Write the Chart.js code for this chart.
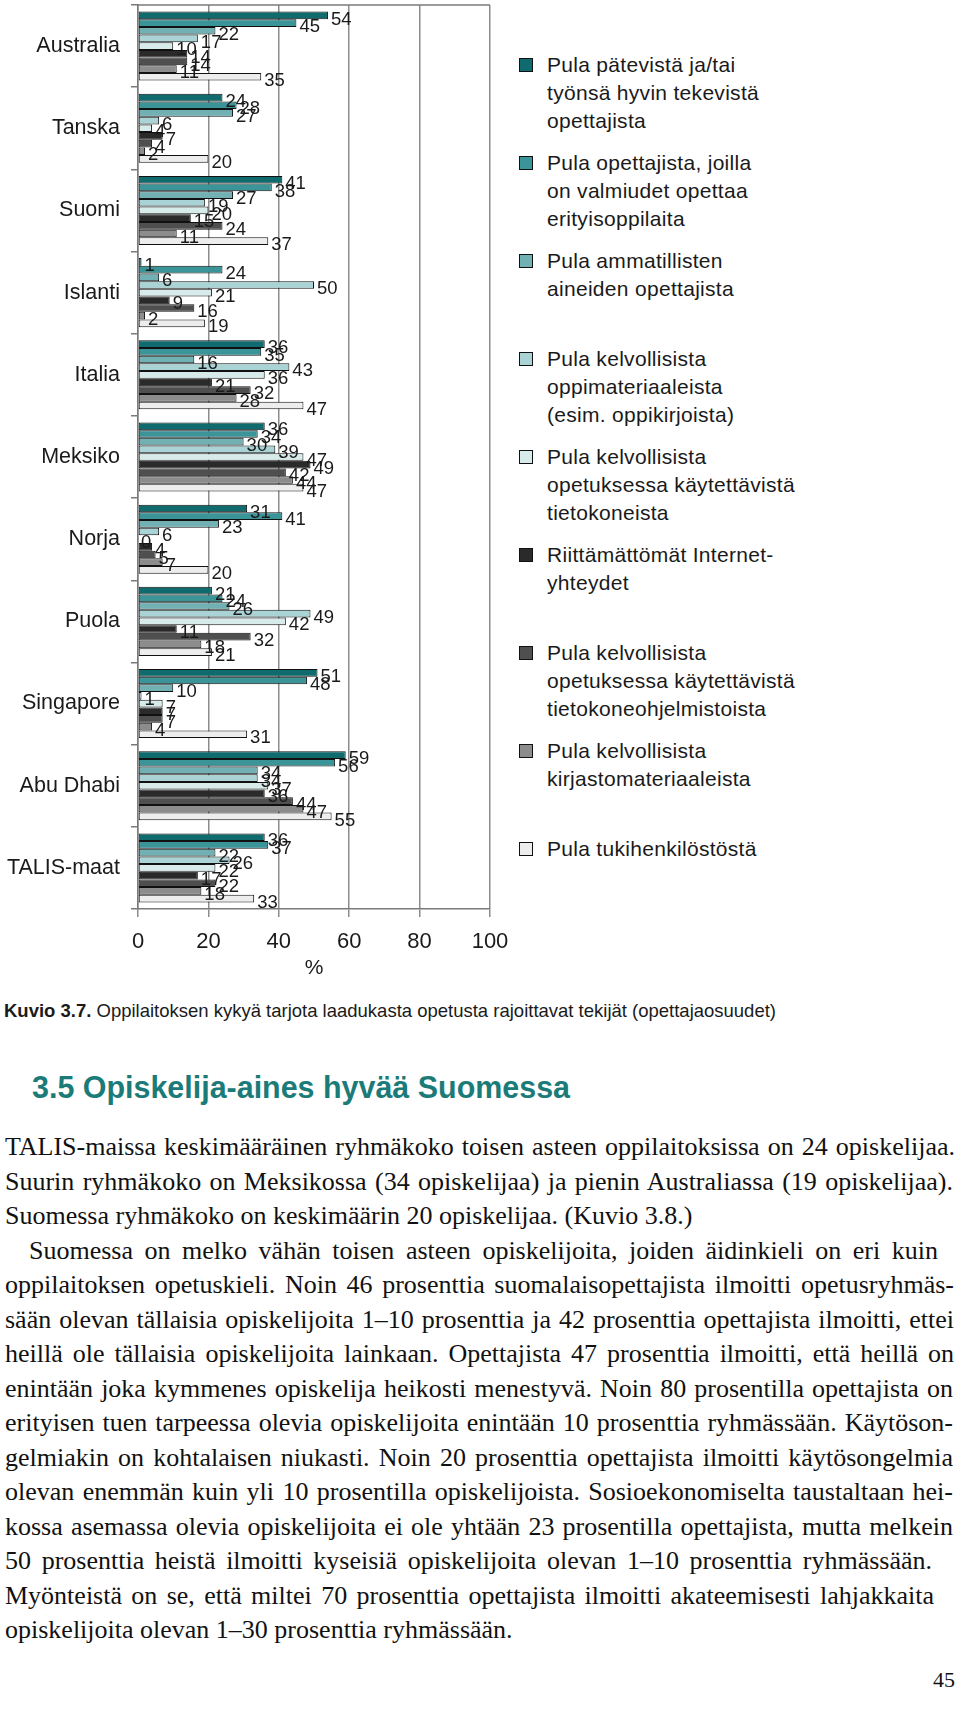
<!DOCTYPE html>
<html>
<head>
<meta charset="utf-8">
<script src="https://cdn.jsdelivr.net/npm/chart.js@4.4.1/dist/chart.umd.min.js"></script>
<style>
html,body{margin:0;padding:0;background:#fff;}
body{width:960px;height:1710px;position:relative;overflow:hidden;font-family:"Liberation Sans",Arial,sans-serif;color:#1a1a1a;}
#chartWrap{position:absolute;left:0;top:0;width:510px;height:1000px;}
.leg{position:absolute;left:519px;font-size:21px;line-height:28px;letter-spacing:0.3px;}
.leg .sw{position:absolute;left:0;top:7px;width:14px;height:14px;border:1px solid #111;box-sizing:border-box;}
.leg .tx{position:absolute;left:28px;top:0;white-space:pre;}
.fit{position:absolute;white-space:pre;transform-origin:0 0;}
#caption{font-family:"Liberation Sans",Arial,sans-serif;font-size:19px;line-height:22px;color:#1a1a1a;}
#heading{font-family:"Liberation Sans",Arial,sans-serif;font-weight:bold;font-size:32px;line-height:36px;color:#1b7b78;}
.bl{position:absolute;white-space:pre;font-family:"Liberation Serif","Times New Roman",serif;font-size:24px;line-height:30px;color:#111;}
#pageno{position:absolute;font-family:"Liberation Serif",serif;font-size:22px;line-height:26px;color:#111;}
</style>
</head>
<body>
<div id="chartWrap"><canvas id="c" width="510" height="1000" style="width:510px;height:1000px"></canvas></div>
<div id="legend"></div>
<div id="caption" class="fit"><b>Kuvio 3.7.</b> Oppilaitoksen kykyä tarjota laadukasta opetusta rajoittavat tekijät (opettajaosuudet)</div>
<div id="heading" class="fit">3.5 Opiskelija-aines hyvää Suomessa</div>
<div id="bodytext"></div>
<div id="pageno">45</div>
<script>
// ---- Chart data ----
const categories = ['Australia','Tanska','Suomi','Islanti','Italia','Meksiko','Norja','Puola','Singapore','Abu Dhabi','TALIS-maat'];
const seriesNames = [
  'Pula pätevistä ja/tai\ntyönsä hyvin tekevistä\nopettajista',
  'Pula opettajista, joilla\non valmiudet opettaa\nerityisoppilaita',
  'Pula ammatillisten\naineiden opettajista',
  'Pula kelvollisista\noppimateriaaleista\n(esim. oppikirjoista)',
  'Pula kelvollisista\nopetuksessa käytettävistä\ntietokoneista',
  'Riittämättömät Internet-\nyhteydet',
  'Pula kelvollisista\nopetuksessa käytettävistä\ntietokoneohjelmistoista',
  'Pula kelvollisista\nkirjastomateriaaleista',
  'Pula tukihenkilöstöstä'
];
const patevista      = [54,24,41, 1,36,36,31,21,51,59,36];
const erityis        = [45,28,38,24,35,34,41,24,48,56,37];
const ammatillisten  = [22,27,27, 6,16,30,23,26,10,34,22];
const oppimateriaali = [17, 6,19,50,43,39, 6,49, 1,34,26];
const tietokoneet    = [10, 4,20,21,36,47, 0,42, 7,37,22];
const internet       = [14, 7,15, 9,21,49, 4,11, 7,36,17];
const ohjelmistot    = [14, 4,24,16,32,42, 5,32, 7,44,22];
const kirjasto       = [11, 2,11, 2,28,44, 7,18, 4,47,18];
const tukihenkilosto = [35,20,37,19,47,47,20,21,31,55,33];
const xTicks = [0,20,40,60,80,100];

const seriesValues = [patevista,erityis,ammatillisten,oppimateriaali,tietokoneet,internet,ohjelmistot,kirjasto,tukihenkilosto];
const colors = ['#0f6b6d','#3b9598','#72b1b3','#a9d3d4','#d7ebeb','#2a2a2a','#4f4f4f','#8c8c8c','#ededed'];

const datasets = seriesValues.map((vals,i)=>({
  label: seriesNames[i].replace(/\n/g,' '),
  data: vals,
  backgroundColor: colors[i],
  borderColor: '#111',
  borderWidth: 1,
  borderSkipped: false,
  categoryPercentage: 0.84,
  barPercentage: 1.0
}));

const valueLabels = {
  id:'valueLabels',
  afterDatasetsDraw(chart){
    const ctx = chart.ctx;
    ctx.save();
    ctx.font = '18.5px "Liberation Sans", Arial, sans-serif';
    ctx.fillStyle = '#1a1a1a';
    ctx.textBaseline = 'middle';
    ctx.textAlign = 'left';
    chart.data.datasets.forEach((ds,i)=>{
      const meta = chart.getDatasetMeta(i);
      meta.data.forEach((bar,j)=>{
        ctx.fillText(String(ds.data[j]), bar.x + 3, bar.y + 4);
      });
    });
    ctx.restore();
  }
};
const topFrame = {
  id:'topFrame',
  afterDraw(chart){
    const {ctx, chartArea:a} = chart;
    ctx.save();
    ctx.strokeStyle = '#7a7a7a';
    ctx.lineWidth = 1.5;
    ctx.beginPath();
    ctx.moveTo(a.left, a.top);
    ctx.lineTo(a.right, a.top);
    ctx.stroke();
    ctx.restore();
  }
};

new Chart(document.getElementById('c'), {
  type:'bar',
  data:{labels:categories, datasets},
  options:{
    responsive:false,
    animation:false,
    indexAxis:'y',
    layout:{padding:{top:5,right:20,left:0,bottom:0}},
    plugins:{legend:{display:false},tooltip:{enabled:false}},
    scales:{
      x:{
        type:'linear', min:0, max:100,
        afterBuildTicks(s){ s.ticks = xTicks.map(v=>({value:v})); },
        ticks:{font:{size:22,family:'Liberation Sans'},color:'#1a1a1a',padding:12},
        grid:{color:'#8c8c8c',lineWidth:1.5,tickLength:8,drawTicks:true},
        border:{color:'#7a7a7a',width:1.5},
        title:{display:true,text:'%',font:{size:21,family:'Liberation Sans'},color:'#1a1a1a',padding:{top:0,bottom:19}},
        afterFit(s){ s.height = 91; s.paddingLeft = 0; s.paddingRight = 0; }
      },
      y:{
        grid:{drawOnChartArea:false,offset:true,color:'#7a7a7a',lineWidth:1.5,tickLength:7},
        border:{color:'#7a7a7a',width:1.5},
        ticks:{font:{size:21.5,family:'Liberation Sans'},color:'#1a1a1a',padding:11},
        afterFit(s){ s.width = 138; s.paddingTop = 0; s.paddingBottom = 0; }
      }
    }
  },
  plugins:[valueLabels, topFrame]
});

// ---- Legend (HTML) ----
const legend = document.getElementById('legend');
seriesNames.forEach((name,i)=>{
  const item = document.createElement('div');
  item.className = 'leg';
  item.style.top = (51 + i*98) + 'px';
  const sw = document.createElement('div');
  sw.className = 'sw';
  sw.style.background = colors[i];
  const tx = document.createElement('div');
  tx.className = 'tx';
  tx.textContent = name;
  item.appendChild(sw); item.appendChild(tx);
  legend.appendChild(item);
});

// ---- Caption / heading fitting ----
function fitText(id, left, top, width){
  const el = document.getElementById(id);
  el.style.left = left+'px'; el.style.top = top+'px';
  const w = el.getBoundingClientRect().width;
  el.style.transform = 'scaleX(' + (width / w) + ')';
}
fitText('caption', 4, 1000, 772);
fitText('heading', 32, 1069, 538);

// ---- Body text ----
const bodyLines = [
  ['TALIS-maissa keskimääräinen ryhmäkoko toisen asteen oppilaitoksissa on 24 opiskelijaa.', 5, 955, true],
  ['Suurin ryhmäkoko on Meksikossa (34 opiskelijaa) ja pienin Australiassa (19 opiskelijaa).', 5, 953, true],
  ['Suomessa ryhmäkoko on keskimäärin 20 opiskelijaa. (Kuvio 3.8.)', 5, 693, false],
  ['Suomessa on melko vähän toisen asteen opiskelijoita, joiden äidinkieli on eri kuin', 29, 938, true],
  ['oppilaitoksen opetuskieli. Noin 46 prosenttia suomalaisopettajista ilmoitti opetusryhmäs-', 5, 954, true],
  ['sään olevan tällaisia opiskelijoita 1–10 prosenttia ja 42 prosenttia opettajista ilmoitti, ettei', 5, 954, true],
  ['heillä ole tällaisia opiskelijoita lainkaan. Opettajista 47 prosenttia ilmoitti, että heillä on', 5, 954, true],
  ['enintään joka kymmenes opiskelija heikosti menestyvä. Noin 80 prosentilla opettajista on', 5, 953, true],
  ['erityisen tuen tarpeessa olevia opiskelijoita enintään 10 prosenttia ryhmässään. Käytöson-', 5, 953, true],
  ['gelmiakin on kohtalaisen niukasti. Noin 20 prosenttia opettajista ilmoitti käytösongelmia', 5, 953, true],
  ['olevan enemmän kuin yli 10 prosentilla opiskelijoista. Sosioekonomiselta taustaltaan hei-', 5, 953, true],
  ['kossa asemassa olevia opiskelijoita ei ole yhtään 23 prosentilla opettajista, mutta melkein', 5, 953, true],
  ['50 prosenttia heistä ilmoitti kyseisiä opiskelijoita olevan 1–10 prosenttia ryhmässään.', 5, 932, true],
  ['Myönteistä on se, että miltei 70 prosenttia opettajista ilmoitti akateemisesti lahjakkaita', 5, 934, true],
  ['opiskelijoita olevan 1–30 prosenttia ryhmässään.', 5, 520, false]
];
const bt = document.getElementById('bodytext');
const probe = document.createElement('div');
probe.className = 'bl';
probe.style.fontSize = '24px';
probe.textContent = bodyLines[2][0];
bt.appendChild(probe);
let fs = 24 * (bodyLines[2][2]-bodyLines[2][1]) / probe.getBoundingClientRect().width;
fs = Math.max(21, Math.min(26, fs));
bt.removeChild(probe);
bodyLines.forEach(([text,left,right,just],i)=>{
  const d = document.createElement('div');
  d.className = 'bl';
  d.style.fontSize = fs + 'px';
  d.textContent = text;
  d.style.left = left+'px';
  d.style.top = (1147 + 34.5*i - 15) + 'px';
  bt.appendChild(d);
  if (just){
    const w = d.getBoundingClientRect().width;
    const n = (text.match(/ /g)||[]).length;
    if (n>0) d.style.wordSpacing = ((right-left-w)/n) + 'px';
  }
});
const pn = document.getElementById('pageno');
pn.style.top = (1680-13)+'px';
pn.style.left = (955 - pn.getBoundingClientRect().width) + 'px';
</script>
</body>
</html>
